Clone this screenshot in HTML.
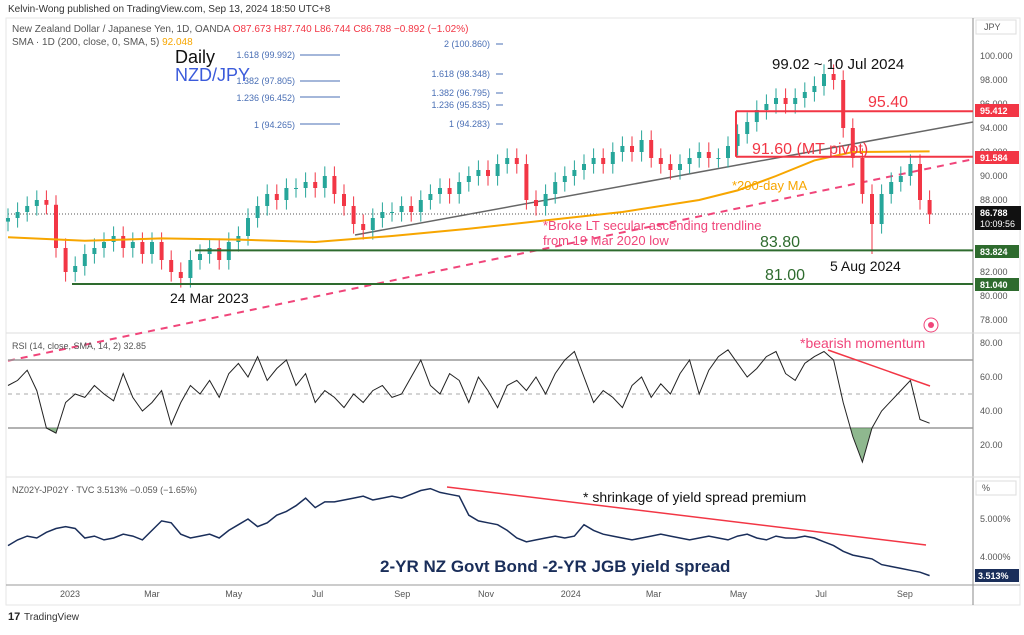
<!DOCTYPE html>
<html><head><meta charset="utf-8"><style>
body{margin:0;background:#fff;width:1024px;height:630px;overflow:hidden;font-family:"Liberation Sans",sans-serif}
svg text{font-family:"Liberation Sans",sans-serif}
</style></head><body>
<svg id="c" width="1024" height="630" xmlns="http://www.w3.org/2000/svg">
<defs><clipPath id="below30"><rect x="0" y="428" width="973" height="48"/></clipPath></defs>
<text x="8" y="12" font-size="10" fill="#333">Kelvin-Wong published on TradingView.com, Sep 13, 2024 18:50 UTC+8</text>
<rect x="6" y="18" width="1014" height="587" fill="none" stroke="#e6e6e6"/>
<line x1="973" y1="18" x2="973" y2="605" stroke="#888"/>
<line x1="6" y1="333" x2="1020" y2="333" stroke="#ddd"/>
<line x1="6" y1="477" x2="1020" y2="477" stroke="#ddd"/>
<line x1="6" y1="585" x2="1020" y2="585" stroke="#999"/>
<g id="g-price"></g><g id="g-rsi"></g><g id="g-spread"></g><g id="g-axes"></g>
<g><text x="8" y="620" font-size="11" font-weight="bold" fill="#222">17</text><text x="24" y="620" font-size="10" fill="#333">TradingView</text></g>
</svg>
<script>
const closes=[86.5,87.0,87.5,88.0,87.6,84.0,82.0,82.5,83.5,84.0,84.5,85.0,84.0,84.5,83.5,84.5,83.0,82.0,81.5,83.0,83.5,84.0,83.0,84.5,85.0,86.5,87.5,88.5,88.0,89.0,89.0,89.5,89.0,90.0,88.5,87.5,86.0,85.5,86.5,87.0,87.0,87.5,87.0,88.0,88.5,89.0,88.5,89.5,90.0,90.5,90.0,91.0,91.5,91.0,88.0,87.5,88.5,89.5,90.0,90.5,91.0,91.5,91.0,92.0,92.5,92.0,93.0,91.5,91.0,90.5,91.0,91.5,92.0,91.5,91.5,92.5,93.5,94.5,95.5,96.0,96.5,96.0,96.5,97.0,97.5,98.5,98.0,94.0,91.5,88.5,86.0,88.5,89.5,90.0,91.0,88.0,86.8];
const smaIdx=[0,8,16,24,32,40,48,56,64,72,76,80,84,88,96];
const smaVal=[84.9,84.6,84.8,84.7,84.5,85.0,85.6,86.3,87.0,88.0,88.8,90.0,91.3,92.0,92.05];
const rsi=[55,58,64,52,30,27,45,50,48,55,50,46,62,48,40,45,52,32,45,55,50,58,48,62,68,60,72,58,65,70,55,62,45,52,48,42,50,45,52,55,48,50,60,70,55,50,62,58,45,60,52,42,55,58,52,60,50,62,70,75,60,45,52,48,42,55,60,48,56,50,62,70,50,64,72,76,68,60,65,72,75,62,58,68,72,75,70,45,25,10,30,40,46,52,58,35,32.85];
const spread=[4.3,4.45,4.55,4.5,4.65,4.75,4.8,4.75,4.5,4.55,4.45,4.5,4.6,4.55,4.45,4.7,4.95,4.9,4.6,4.5,4.55,4.6,4.5,4.7,4.85,5.0,4.8,4.9,5.1,5.2,5.35,5.55,5.3,5.45,5.45,5.5,5.55,5.6,5.5,5.55,5.6,5.55,5.65,5.75,5.8,5.7,5.65,5.6,5.1,4.95,4.9,4.85,4.7,4.5,4.4,4.45,4.5,4.55,4.5,4.55,4.85,4.7,4.6,4.55,4.5,4.45,4.5,4.55,4.6,4.55,4.5,4.45,4.5,4.55,4.5,4.45,4.55,4.6,4.5,4.45,4.55,4.5,4.5,4.55,4.5,4.4,4.3,4.15,4.05,4.0,3.95,3.8,3.75,3.7,3.65,3.6,3.51];
const priceTicks=[100,98,96,94,92,90,88,82,80,78];
const rsiTicks=[80,60,40,20];
const spreadTicks=[5,4];
const monthLabels=["5","2023","Mar","May","Jul","Sep","Nov","2024","Mar","May","Jul","Sep"];
const monthWeeks=[-8,0,8.5,17,25.7,34.5,43.2,52,60.6,69.4,78,86.7];

const NS="http://www.w3.org/2000/svg";
const X=i=>8+i*9.6;
const Xw=w=>70+w*9.63;
const Yp=p=>56+(100-p)*12;
const Yr=v=>343+(80-v)*1.7;
const Ys=v=>519+(5-v)*38;
function mk(t,a,p){const e=document.createElementNS(NS,t);for(const k in a)e.setAttribute(k,a[k]);(p||document.getElementById('c')).appendChild(e);return e;}
const gp=document.getElementById('g-price'),gr=document.getElementById('g-rsi'),gs=document.getElementById('g-spread'),ga=document.getElementById('g-axes');

let e;
e=mk('line',{x1:8,y1:214,x2:973,y2:214,stroke:'#555','stroke-dasharray':'1 2'},gp);


e=mk('line',{x1:8,y1:Yp(74.6),x2:973,y2:Yp(91.4),stroke:'#f0457a','stroke-width':2,'stroke-dasharray':'7 6'},gp);


e=mk('line',{x1:355,y1:235,x2:973,y2:122,stroke:'#666','stroke-width':1.5},gp);


closes.forEach((c,i)=>{const o=i?closes[i-1]:c-0.3;const up=c>=o;const col=up?'#26a69a':'#f23645';
const hi=Math.max(o,c)+0.8,lo=Math.min(o,c)-(i===90?2.5:0.8);
const g=mk('g',{},gp);


mk('line',{x1:X(i),x2:X(i),y1:Yp(hi),y2:Yp(lo),stroke:col,'stroke-width':1},g);
mk('rect',{x:X(i)-2,y:Yp(Math.max(o,c)),width:4,height:Math.max(1,Math.abs(c-o)*12),fill:col},g);});
e=mk('path',{d:smaIdx.map((k,j)=>(j?'L':'M')+X(k)+','+Yp(smaVal[j])).join(''),fill:'none',stroke:'#f7a600','stroke-width':2},gp);


[[95.4,736,'#f23645','resistance-95-40'],[91.6,736,'#f23645','pivot-91-60'],[83.8,195,'#2e6b2e','support-83-80'],[81.0,72,'#2e6b2e','support-81-00']].forEach(l=>{
e=mk('line',{x1:l[1],x2:973,y1:Yp(l[0]),y2:Yp(l[0]),stroke:l[2],'stroke-width':2},gp);

});
e=mk('line',{x1:736,x2:736,y1:Yp(95.4),y2:Yp(91.6),stroke:'#f23645','stroke-width':2},gp);



e=mk('line',{x1:8,x2:973,y1:Yr(70),y2:Yr(70),stroke:'#999','stroke-width':1.5},gr);


e=mk('line',{x1:8,x2:973,y1:Yr(30),y2:Yr(30),stroke:'#999','stroke-width':1.5},gr);


e=mk('line',{x1:8,x2:973,y1:Yr(50),y2:Yr(50),stroke:'#aaa','stroke-dasharray':'4 4'},gr);


e=mk('path',{d:'M'+X(0)+','+Yr(30)+rsi.map((v,i)=>'L'+X(i)+','+Yr(v)).join('')+'L'+X(rsi.length-1)+','+Yr(30)+'Z',fill:'#5f9a5f',opacity:0.7,'clip-path':'url(#below30)'},gr);


e=mk('path',{d:rsi.map((v,i)=>(i?'L':'M')+X(i)+','+Yr(v)).join(''),fill:'none',stroke:'#222','stroke-width':1},gr);


e=mk('line',{x1:828,y1:350,x2:930,y2:386,stroke:'#f23645','stroke-width':1.5},gr);



e=mk('path',{d:spread.map((v,i)=>(i?'L':'M')+X(i)+','+Ys(v)).join(''),fill:'none',stroke:'#1a2e5a','stroke-width':1.5},gs);


e=mk('line',{x1:447,y1:487,x2:926,y2:545,stroke:'#f23645','stroke-width':1.5},gs);



priceTicks.forEach(t=>{e=mk('text',{x:980,y:Yp(t)+3,'font-size':9,fill:'#555'},ga);e.textContent=t.toFixed(3);

});
rsiTicks.forEach(t=>{e=mk('text',{x:980,y:Yr(t)+3,'font-size':9,fill:'#555'},ga);e.textContent=t.toFixed(2);

});
spreadTicks.forEach(t=>{e=mk('text',{x:980,y:Ys(t)+3,'font-size':9,fill:'#555'},ga);e.textContent=t.toFixed(3)+'%';

});
monthLabels.forEach((m,j)=>{e=mk('text',{x:Xw(monthWeeks[j]),y:597,'font-size':9,fill:'#555','text-anchor':'middle'},ga);e.textContent=m;

});
</script>
<svg width="1024" height="630" style="position:absolute;left:0;top:0">
<text x="12" y="32" font-size="10" fill="#555">New Zealand Dollar / Japanese Yen, 1D, OANDA <tspan fill="#f23645">O87.673 H87.740 L86.744 C86.788 −0.892 (−1.02%)</tspan></text>
<text x="12" y="45" font-size="10" fill="#555">SMA · 1D (200, close, 0, SMA, 5) <tspan fill="#f7a600">92.048</tspan></text>
<text x="175" y="63" font-size="18" fill="#111">Daily</text>
<text x="175" y="81" font-size="18" fill="#3b5bdb">NZD/JPY</text>
<g font-size="9" fill="#4a6fb5" text-anchor="end">
<text x="295" y="58">1.618 (99.992)</text><text x="295" y="84">1.382 (97.805)</text><text x="295" y="101">1.236 (96.452)</text><text x="295" y="128">1 (94.265)</text>
<text x="490" y="47">2 (100.860)</text><text x="490" y="77">1.618 (98.348)</text><text x="490" y="96">1.382 (96.795)</text><text x="490" y="108">1.236 (95.835)</text><text x="490" y="127">1 (94.283)</text></g>
<g stroke="#4a6fb5"><line x1="300" x2="340" y1="55" y2="55"/><line x1="300" x2="340" y1="81" y2="81"/><line x1="300" x2="340" y1="97" y2="97"/><line x1="300" x2="340" y1="124" y2="124"/>
<line x1="496" x2="503" y1="44" y2="44"/><line x1="496" x2="503" y1="74" y2="74"/><line x1="496" x2="503" y1="93" y2="93"/><line x1="496" x2="503" y1="105" y2="105"/><line x1="496" x2="503" y1="124" y2="124"/></g>
<text x="772" y="69" font-size="15" fill="#111">99.02 ~ 10 Jul 2024</text>
<text x="868" y="107" font-size="16" fill="#f23645">95.40</text>
<text x="752" y="154" font-size="16" fill="#f23645">91.60 (MT pivot)</text>
<text x="732" y="190" font-size="13" fill="#f7a600">*200-day MA</text>
<text x="543" y="230" font-size="13" fill="#f0457a">*Broke LT secular ascending trendline</text>
<text x="543" y="245" font-size="13" fill="#f0457a">from 19 Mar 2020 low</text>
<text x="760" y="247" font-size="16" fill="#2e6b2e">83.80</text>
<text x="765" y="280" font-size="16" fill="#2e6b2e">81.00</text>
<text x="830" y="271" font-size="14" fill="#111">5 Aug 2024</text>
<text x="170" y="303" font-size="14" fill="#111">24 Mar 2023</text>
<circle cx="931" cy="325" r="7" fill="none" stroke="#f0457a"/>
<circle cx="931" cy="325" r="3" fill="#f0457a"/>
<text x="12" y="349" font-size="9" fill="#555">RSI (14, close, SMA, 14, 2) 32.85</text>
<text x="800" y="348" font-size="14" fill="#f0457a">*bearish momentum</text>
<text x="12" y="493" font-size="9" fill="#555">NZ02Y-JP02Y · TVC 3.513% −0.059 (−1.65%)</text>
<text x="583" y="502" font-size="14" fill="#111">* shrinkage of yield spread premium</text>
<text x="380" y="572" font-size="17" font-weight="bold" fill="#1a2e5a">2-YR NZ Govt Bond -2-YR JGB yield spread</text>
<g font-size="9" font-weight="bold" fill="#fff">
<rect x="976" y="20" width="40" height="14" fill="#fff" stroke="#ddd"/><text x="984" y="30" fill="#555" font-weight="normal">JPY</text>
<rect x="975" y="104" width="44" height="13" fill="#f23645"/><text x="980" y="114">95.412</text>
<rect x="975" y="151" width="44" height="13" fill="#f23645"/><text x="980" y="161">91.584</text>
<rect x="975" y="206" width="46" height="24" fill="#111"/><text x="980" y="216">86.788</text><text x="980" y="227" font-weight="normal">10:09:56</text>
<rect x="975" y="245" width="44" height="13" fill="#2e6b2e"/><text x="980" y="255">83.824</text>
<rect x="975" y="278" width="44" height="13" fill="#2e6b2e"/><text x="980" y="288">81.040</text>
<rect x="976" y="481" width="40" height="14" fill="#fff" stroke="#ddd"/><text x="982" y="491" fill="#555" font-weight="normal">%</text>
<rect x="975" y="569" width="44" height="13" fill="#1a2e5a"/><text x="978" y="579">3.513%</text>
</g>
</svg>
</body></html>
